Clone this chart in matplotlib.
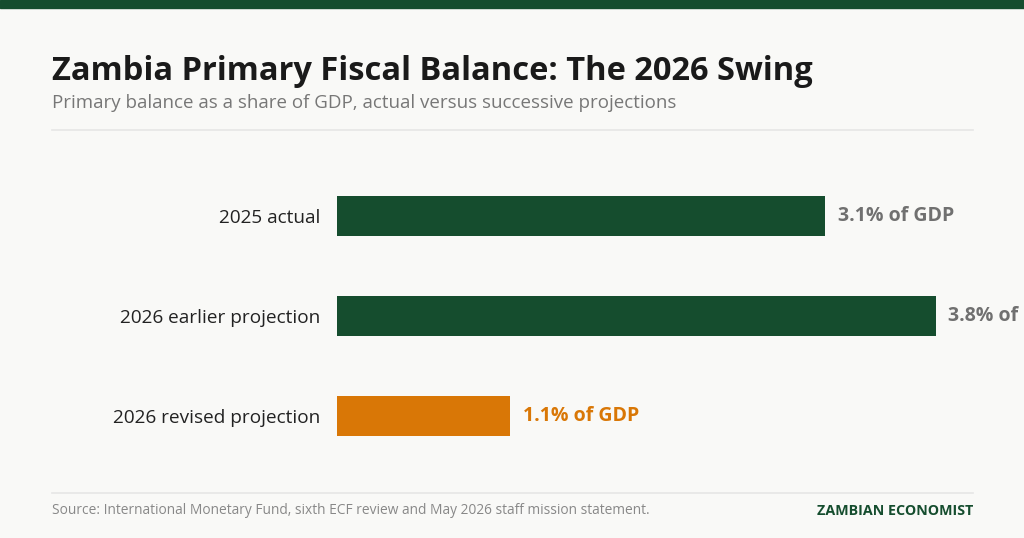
import matplotlib
matplotlib.use("Agg")
import matplotlib.pyplot as plt

categories = ["2025 actual", "2026 earlier projection", "2026 revised projection"]
values = [3.1, 3.8, 1.1]
value_labels = ["3.1% of GDP", "3.8% of GDP", "1.1% of GDP"]
bar_colors = ["#154d2e", "#154d2e", "#d97706"]
label_colors = ["#707070", "#707070", "#d97706"]

plt.rcParams['font.family'] = ["Open Sans", 'DejaVu Sans']

W, H = 1024, 538
fig = plt.figure(figsize=(W / 100, H / 100), dpi=100, facecolor="#f9f9f7")


def fx(px):
    return px / W


def fy(py):
    return 1 - py / H


# top bar
fig.patches.append(plt.Rectangle((0, fy(8)), 1, 8 / H, transform=fig.transFigure,
                                 color="#154d2e", zorder=5))

fig.text(fx(52), fy(80), "Zambia Primary Fiscal Balance: The 2026 Swing",
         fontsize=23.5, fontweight="bold", color="#1a1a1a", va="baseline", ha="left")
fig.text(fx(52), fy(108), "Primary balance as a share of GDP, actual versus successive projections",
         fontsize=13.5, color="#777777", va="baseline", ha="left")

fig.add_artist(plt.Line2D([fx(52), fx(973)], [fy(130), fy(130)], color="#e6e6e6", lw=1.2))
fig.add_artist(plt.Line2D([fx(52), fx(973)], [fy(493), fy(493)], color="#e6e6e6", lw=1.2))

ax_left, ax_top, ax_w, ax_h = 337, 166, 600, 300
ax = fig.add_axes([fx(ax_left), fy(ax_top + ax_h), ax_w / W, ax_h / H])
ax.set_facecolor("none")
ypos = list(range(len(categories)))
ax.barh(ypos, values, height=0.4, color=bar_colors)
ax.set_xlim(0, ax_w / 157.5)
ax.set_ylim(2.5, -0.5)
for s in ax.spines.values():
    s.set_visible(False)
ax.set_xticks([])
ax.set_yticks(ypos)
ax.set_yticklabels(categories, fontsize=13.7, color="#222222")
ax.tick_params(axis="y", length=0, pad=12)
for y, v, lab, c in zip(ypos, values, value_labels, label_colors):
    ax.annotate(lab, (v, y), xytext=(9, 0), textcoords="offset points",
                va="center", ha="left", fontsize=14, fontweight="bold", color=c,
                annotation_clip=False)

fig.text(fx(52), fy(511), "Source: International Monetary Fund, sixth ECF review and May 2026 staff mission statement.",
         fontsize=9.9, color="#888888", va="center", ha="left")
fig.text(fx(973), fy(511), "ZAMBIAN ECONOMIST", fontsize=10.3, fontweight="bold",
         color="#154d2e", va="center", ha="right")

fig.savefig("out.png", dpi=100, facecolor=fig.get_facecolor())
